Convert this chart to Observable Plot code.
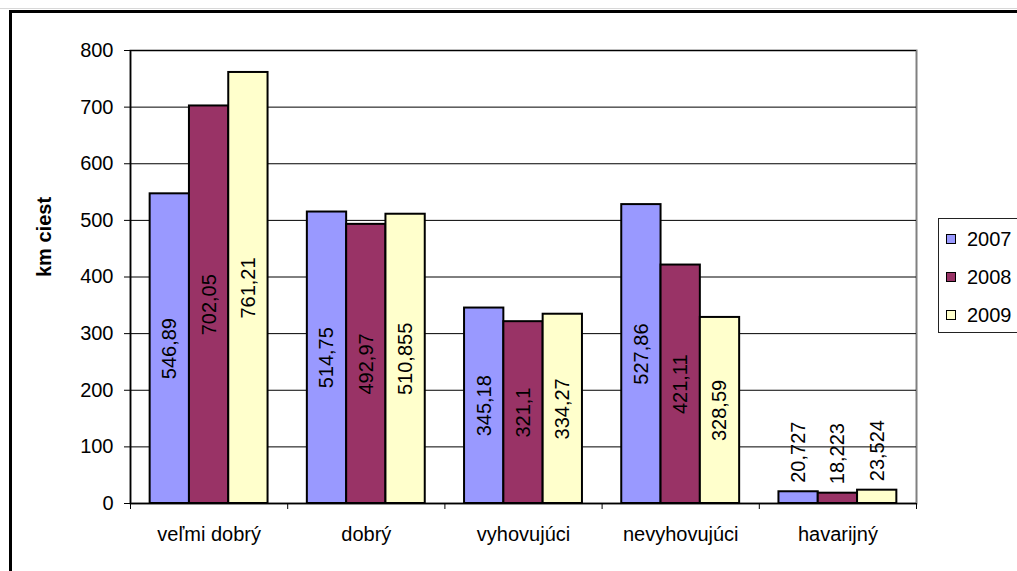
<!DOCTYPE html>
<html>
<head>
<meta charset="utf-8">
<script src="https://cdn.jsdelivr.net/npm/d3@7"></script>
<script src="https://cdn.jsdelivr.net/npm/@observablehq/plot@0.6"></script>
<style>
  html, body { margin: 0; padding: 0; background: #fff; }
  #wrap { position: relative; width: 1017px; height: 571px; overflow: hidden; background: #fff;
          font-family: "Liberation Sans", Arial, sans-serif; }
  #topline { position: absolute; left: 0; top: 8px; width: 1017px; height: 0; border-top: 1px solid #d8d8d8; }
  #frame { position: absolute; left: 9px; top: 10px; width: 1100px; height: 700px;
           border-left: 3px solid #000; border-top: 3px solid #000; box-sizing: border-box; }
  #chart { position: absolute; left: 0; top: 0; }
  #legend { position: absolute; left: 938px; top: 218px; width: 100px; height: 115px;
            border: 1px solid #222; box-sizing: border-box; background: #fff; }
  .row { position: absolute; left: 0; height: 24px; display: flex; align-items: center; font-size: 20px; color: #000; }
  .sw { width: 10px; height: 10px; border: 1px solid #000; box-sizing: border-box; margin-left: 7px; margin-right: 11px; }
</style>
</head>
<body>
<div id="wrap">
  <div id="topline"></div>
  <div id="frame"></div>
  <div id="chart"></div>
  <div id="legend"></div>
</div>
<script>
const categories = ["veľmi dobrý", "dobrý", "vyhovujúci", "nevyhovujúci", "havarijný"];
const years = ["2007", "2008", "2009"];
const v2007 = [546.89, 514.75, 345.18, 527.86, 20.727];
const v2008 = [702.05, 492.97, 321.1, 421.11, 18.223];
const v2009 = [761.21, 510.855, 334.27, 328.59, 23.524];
const yTicks = [0, 100, 200, 300, 400, 500, 600, 700, 800];
const colors = ["#9999FF", "#993366", "#FFFFCC"];
const yLabel = "km ciest";

const series = [v2007, v2008, v2009];
const rows = [];
categories.forEach((c, ci) => {
  years.forEach((yr, yi) => {
    const value = series[yi][ci];
    const x1 = ci + 0.125 + yi * 0.25;
    rows.push({category: c, year: yr, value, x1, x2: x1 + 0.25, xm: x1 + 0.125,
               label: String(value).replace(".", ",")});
  });
});
const inside = rows.filter(d => d.value >= 100);
const outside = rows.filter(d => d.value < 100);

const chart = Plot.plot({
  width: 1017,
  height: 571,
  marginLeft: 130,
  marginRight: 101,
  marginTop: 50,
  marginBottom: 68,
  style: {fontFamily: "Liberation Sans, Arial, sans-serif", fontSize: "20px", background: "transparent", color: "#000"},
  x: {type: "linear", domain: [0, categories.length], axis: null},
  y: {domain: [0, 800], axis: null},
  color: {domain: years, range: colors},
  marks: [
    Plot.frame({stroke: "#808080", strokeWidth: 2}),
    Plot.ruleY(yTicks, {stroke: "#000", strokeWidth: 1}),
    Plot.rectY(rows, {x1: "x1", x2: "x2", y: "value", fill: "year", stroke: "#000", strokeWidth: 2}),
    Plot.text(inside, {x: "xm", y: d => d.value / 2, text: "label", rotate: -90, fontSize: 20, fill: "#000"}),
    Plot.text(outside, {x: "xm", y: "value", text: "label", rotate: -90, textAnchor: "start", dy: -9, fontSize: 20, fill: "#000"}),
    Plot.ruleX([0], {stroke: "#000", strokeWidth: 1.5}),
    Plot.ruleY([0], {stroke: "#000", strokeWidth: 1.5}),
    Plot.axisY({ticks: yTicks, tickSize: 6, tickPadding: 11, label: null, fontSize: 20, stroke: "#000"}),
    Plot.axisX({ticks: d3.range(categories.length + 1), tickSize: 6, tickFormat: () => "", label: null, stroke: "#000"}),
    Plot.axisX({ticks: categories.map((_, i) => i + 0.5), tickSize: 0, tickPadding: 23,
                tickFormat: d => categories[Math.floor(d)], label: null, fontSize: 20}),
    Plot.text([yLabel], {frameAnchor: "left", dx: -86, rotate: -90, fontWeight: "bold", fontSize: 20, fill: "#000", text: d => d})
  ]
});
document.getElementById("chart").appendChild(chart);

const legend = document.getElementById("legend");
years.forEach((yr, i) => {
  const row = document.createElement("div");
  row.className = "row";
  row.style.top = (8 + i * 38) + "px";
  const sw = document.createElement("div");
  sw.className = "sw";
  sw.style.background = colors[i];
  const t = document.createElement("span");
  t.textContent = yr;
  row.appendChild(sw);
  row.appendChild(t);
  legend.appendChild(row);
});
</script>
</body>
</html>
